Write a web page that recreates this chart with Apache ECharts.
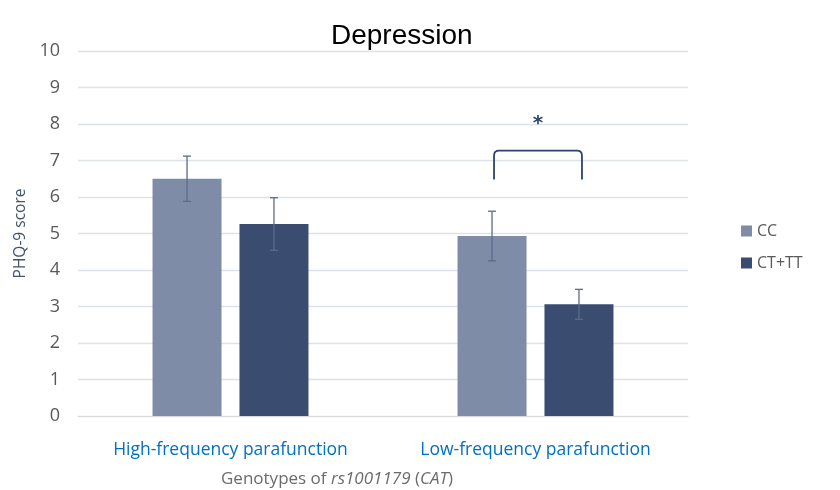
<!DOCTYPE html>
<html>
<head>
<meta charset="utf-8">
<script src="https://cdn.jsdelivr.net/npm/echarts@6/dist/echarts.min.js"></script>
<style>
  html, body { margin: 0; padding: 0; background: #fff; }
  #chart { width: 840px; height: 490px; }
</style>
</head>
<body>
<div id="chart"></div>
<script>
var categories = ['High-frequency parafunction', 'Low-frequency parafunction'];
var seriesNames = ['CC', 'CT+TT'];
var ccValues = [6.5, 4.93];
var ccErrors = [0.62, 0.68];
var cttValues = [5.26, 3.06];
var cttErrors = [0.72, 0.41];
// significance bracket on the low-frequency group
var sigCategory = 1;
var sigBase = 6.48;
var sigTop = 7.27;
var sigStar = 8.0;

var BAR_W = 69;
var BAR_GAP = '26%';

function errorData(values, errors) {
  return values.map(function (v, i) { return [i, v - errors[i], v + errors[i]]; });
}

function errorRender(idx) {
  return function (params, api) {
    var x = api.value(0);
    var lo = api.coord([x, api.value(1)]);
    var hi = api.coord([x, api.value(2)]);
    var layout = api.barLayout({ barWidth: BAR_W, barGap: BAR_GAP, count: 2 });
    var cx = lo[0] + layout[idx].offsetCenter;
    var cap = 4;
    var style = { stroke: '#5b6b8c', lineWidth: 1.3 };
    return {
      type: 'group',
      children: [
        { type: 'line', shape: { x1: cx, y1: lo[1], x2: cx, y2: hi[1] }, style: style },
        { type: 'line', shape: { x1: cx - cap, y1: hi[1], x2: cx + cap, y2: hi[1] }, style: style },
        { type: 'line', shape: { x1: cx - cap, y1: lo[1], x2: cx + cap, y2: lo[1] }, style: style }
      ]
    };
  };
}

function bracketRender(params, api) {
  var x = api.value(0);
  var base = api.coord([x, api.value(1)]);
  var top = api.coord([x, api.value(2)]);
  var star = api.coord([x, api.value(3)]);
  var layout = api.barLayout({ barWidth: BAR_W, barGap: BAR_GAP, count: 2 });
  var x1 = base[0] + layout[0].offsetCenter + 2;
  var x2 = base[0] + layout[1].offsetCenter + 3;
  var r = 5;
  var d = 'M' + x1 + ' ' + base[1] +
    ' L' + x1 + ' ' + (top[1] + r) +
    ' Q' + x1 + ' ' + top[1] + ' ' + (x1 + r) + ' ' + top[1] +
    ' L' + (x2 - r) + ' ' + top[1] +
    ' Q' + x2 + ' ' + top[1] + ' ' + x2 + ' ' + (top[1] + r) +
    ' L' + x2 + ' ' + base[1];
  return {
    type: 'group',
    children: [
      { type: 'path', shape: { pathData: d }, style: { stroke: '#2f4468', lineWidth: 1.8, fill: null } },
      { type: 'text', style: { text: '*', x: (x1 + x2) / 2, y: star[1], textAlign: 'center', textVerticalAlign: 'middle',
        font: 'bold 20px "DejaVu Sans", sans-serif', fill: '#2f4468' } }
    ]
  };
}

var chart = echarts.init(document.getElementById('chart'));
chart.setOption({
  animation: false,
  title: {
    text: 'Depression',
    left: 326,
    top: 17,
    textStyle: { fontFamily: 'Liberation Sans', fontSize: 28, fontWeight: 'normal', color: '#000' }
  },
  legend: {
    data: seriesNames,
    orient: 'vertical',
    left: 736,
    top: 218,
    icon: 'rect',
    itemWidth: 11,
    itemHeight: 11,
    itemGap: 16,
    textStyle: { fontFamily: 'Open Sans', fontSize: 16, color: '#595959' }
  },
  grid: { left: 78, right: 152, top: 51, bottom: 74 },
  xAxis: {
    type: 'category',
    data: categories,
    axisTick: { show: false },
    axisLine: { lineStyle: { color: '#d9d9d9' } },
    axisLabel: { interval: 0, margin: 25, fontFamily: 'Open Sans', fontSize: 17.5, color: '#0070c0' }
  },
  yAxis: {
    type: 'value',
    min: 0,
    max: 10,
    interval: 1,
    name: 'PHQ-9 score',
    nameLocation: 'middle',
    nameGap: 48,
    nameTextStyle: { fontFamily: 'Open Sans', fontSize: 15.5, color: '#44546a' },
    axisLabel: { margin: 18, fontFamily: 'Open Sans', fontSize: 18, color: '#595959' },
    splitLine: { lineStyle: { color: '#dde1ea', width: 1.3 } }
  },
  graphic: [{
    type: 'text',
    left: 221,
    top: 471,
    style: {
      text: '{n|Genotypes of }{i|rs1001179}{n| (}{i|CAT}{n|)}',
      rich: {
        n: { fontFamily: 'Open Sans', fontSize: 17, fill: '#6b6b6b', color: '#6b6b6b' },
        i: { fontFamily: 'Open Sans', fontStyle: 'italic', fontSize: 17, fill: '#6b6b6b', color: '#6b6b6b' }
      }
    }
  }],
  series: [
    { name: 'CC', type: 'bar', data: ccValues, barWidth: BAR_W, barGap: BAR_GAP, itemStyle: { color: '#7f8ca7' } },
    { name: 'CT+TT', type: 'bar', data: cttValues, barWidth: BAR_W, barGap: BAR_GAP, itemStyle: { color: '#3a4c70' } },
    { type: 'custom', renderItem: errorRender(0), data: errorData(ccValues, ccErrors), z: 10 },
    { type: 'custom', renderItem: errorRender(1), data: errorData(cttValues, cttErrors), z: 10 },
    { type: 'custom', renderItem: bracketRender, data: [[sigCategory, sigBase, sigTop, sigStar]], z: 10 }
  ]
});
</script>
</body>
</html>
